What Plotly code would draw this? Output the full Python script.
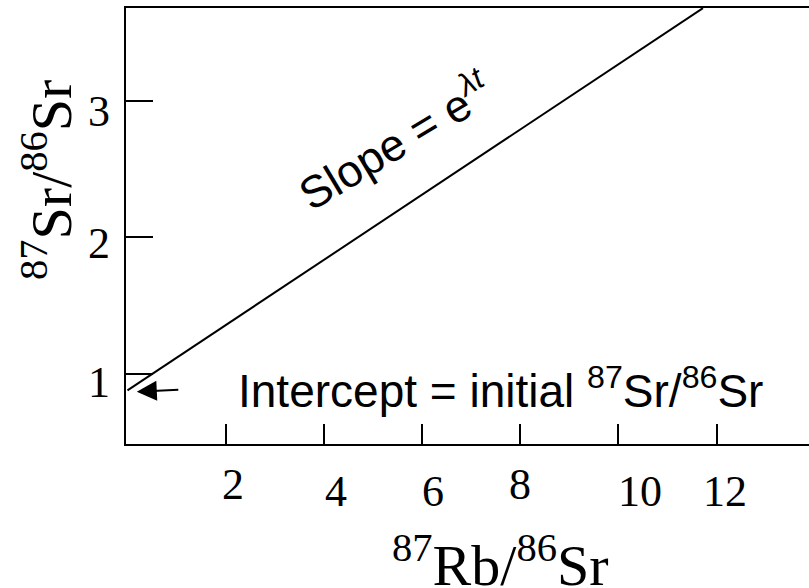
import plotly.graph_objects as go

# ---- data ----
line_x = [0.0, 11.72]
line_y = [0.88, 3.68]
x_tick_vals = [2, 4, 6, 8, 10, 12]
x_tick_text = ["2", "4", "6", "8", "10", "12"]
y_tick_vals = [1, 2, 3]
y_tick_text = ["1", "2", "3"]
intercept_point = (0.19, 0.87)

SERIF = "Liberation Serif, Times New Roman, serif"
SANS = "Liberation Sans, Arial, sans-serif"

fig = go.Figure()
fig.add_trace(go.Scatter(x=line_x, y=line_y, mode="lines",
                         line=dict(color="black", width=2), hoverinfo="skip",
                         showlegend=False, cliponaxis=False))

# x tick label offsets (pixels) to mimic the staggered labels
x_lab_dx = [7, 12, 11, 0, 22, 8]
x_lab_dy = [-40, -47, -47, -40, -47, -47]
ann = []
for v, t, dx, dy in zip(x_tick_vals, x_tick_text, x_lab_dx, x_lab_dy):
    ann.append(dict(x=v, y=0, xref="x", yref="paper", text=t, showarrow=False,
                    xanchor="center", yanchor="middle", xshift=dx, yshift=dy,
                    font=dict(family=SERIF, size=44, color="black")))
y_lab_dy = [-9, -6, -11]
for v, t, dy in zip(y_tick_vals, y_tick_text, y_lab_dy):
    ann.append(dict(x=0, y=v, xref="paper", yref="y", text=t, showarrow=False,
                    xanchor="right", yanchor="middle", xshift=-14, yshift=dy,
                    font=dict(family=SERIF, size=44, color="black")))

# axis titles
ann.append(dict(x=0.5476, y=0, xref="paper", yref="paper",
                text="<sup>87</sup>Rb/<sup>86</sup>Sr", showarrow=False,
                xanchor="center", yanchor="middle", yshift=-117,
                font=dict(family=SERIF, size=58, color="black")))
ann.append(dict(x=0, y=0.6055, xref="paper", yref="paper",
                text="<sup>87</sup>Sr/<sup>86</sup>Sr", showarrow=False,
                xanchor="center", yanchor="middle", xshift=-79, textangle=-90,
                font=dict(family=SERIF, size=58, color="black")))

# slope label
ann.append(dict(x=5.43, y=2.715, xref="x", yref="y",
                text="Slope = e<sup><i>\u03bbt</i></sup>", showarrow=False,
                xanchor="center", yanchor="middle", textangle=-31,
                font=dict(family=SANS, size=45, color="black")))

# intercept label
ann.append(dict(x=0, y=0.90, xref="paper", yref="y",
                text="Intercept = initial <sup>87</sup>Sr/<sup>86</sup>Sr",
                showarrow=False, xanchor="left", yanchor="middle", xshift=110,
                font=dict(family=SANS, size=46, color="black")))

# arrow to intercept
ann.append(dict(x=intercept_point[0], y=intercept_point[1], xref="x", yref="y",
                text="", showarrow=True, arrowhead=2, arrowsize=2,
                arrowwidth=2, arrowcolor="black", ax=43, ay=-2,
                axref="pixel", ayref="pixel", standoff=0))

fig.update_layout(
    width=809, height=588,
    margin=dict(l=126, r=0, t=8, b=144),
    paper_bgcolor="white", plot_bgcolor="white",
    showlegend=False,
    annotations=ann,
    xaxis=dict(range=[-0.03, 13.88], showgrid=False, zeroline=False,
               showline=True, linecolor="black", linewidth=2, mirror=True,
               tickmode="array", tickvals=x_tick_vals, showticklabels=False,
               ticks="inside", ticklen=20, tickwidth=2, tickcolor="black"),
    yaxis=dict(range=[0.487, 3.681], showgrid=False, zeroline=False,
               showline=True, linecolor="black", linewidth=2, mirror=False,
               tickmode="array", tickvals=y_tick_vals, showticklabels=False,
               ticks="inside", ticklen=27, tickwidth=2, tickcolor="black"),
)

fig.write_html("out.html")
